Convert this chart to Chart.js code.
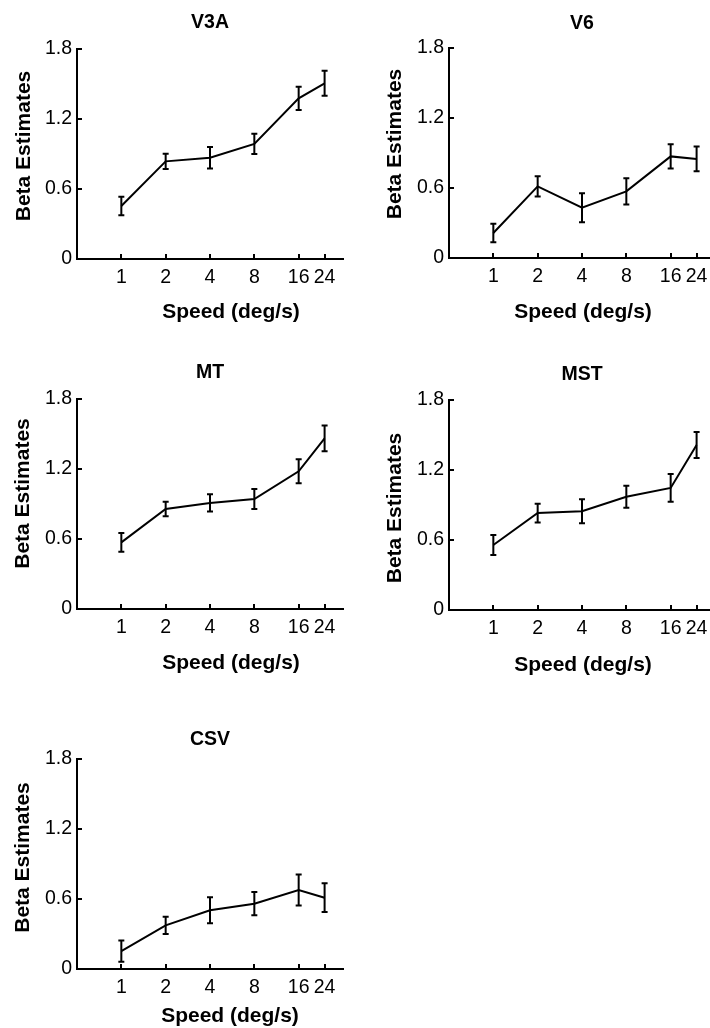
<!DOCTYPE html>
<html>
<head>
<meta charset="utf-8">
<script src="https://cdn.jsdelivr.net/npm/chart.js@4.4.0/dist/chart.umd.min.js"></script>
<style>
  html, body { margin: 0; padding: 0; background: #fff; }
  body { position: relative; width: 710px; height: 1028px; overflow: hidden; }
  canvas { position: absolute; }
</style>
</head>
<body>
<canvas id="c0" width="360" height="330" style="left:0px;top:0px"></canvas>
<canvas id="c1" width="360" height="330" style="left:372px;top:-1px"></canvas>
<canvas id="c2" width="360" height="330" style="left:0px;top:350px"></canvas>
<canvas id="c3" width="360" height="330" style="left:372px;top:351px"></canvas>
<canvas id="c4" width="360" height="330" style="left:0px;top:710px"></canvas>
<script>
// data
const speeds = [1, 2, 4, 8, 16, 24];
const yTicks = [0, 0.6, 1.2, 1.8];
const regions = ['V3A', 'V6', 'MT', 'MST', 'CSV'];

const v3a    = [0.454, 0.837, 0.868, 0.986, 1.377, 1.506];
const v3aErr = [0.080, 0.065, 0.093, 0.087, 0.100, 0.107];
const v6     = [0.214, 0.614, 0.431, 0.571, 0.871, 0.849];
const v6Err  = [0.080, 0.087, 0.124, 0.113, 0.104, 0.106];
const mt     = [0.571, 0.857, 0.909, 0.943, 1.180, 1.463];
const mtErr  = [0.080, 0.063, 0.074, 0.086, 0.103, 0.110];
const mst    = [0.557, 0.831, 0.846, 0.971, 1.046, 1.414];
const mstErr = [0.086, 0.080, 0.103, 0.094, 0.119, 0.111];
const csv    = [0.154, 0.374, 0.503, 0.560, 0.677, 0.611];
const csvErr = [0.091, 0.074, 0.111, 0.100, 0.133, 0.123];

const xTitle = 'Speed (deg/s)';
const yTitle = 'Beta Estimates';

const values = [v3a, v6, mt, mst, csv];
const errors = [v3aErr, v6Err, mtErr, mstErr, csvErr];

// per panel placement of the titles (px)
const layouts = [
  { gap: 26.5, xdx: 154, xdy: 53.5, ydx: -53, ydy: -8 },
  { gap: 24.4, xdx: 134, xdy: 54,   ydx: -54, ydy: -9 },
  { gap: 26.3, xdx: 154, xdy: 54,   ydx: -54, ydy: -10.5 },
  { gap: 25,   xdx: 134, xdy: 55,   ydx: -54, ydy: 3 },
  { gap: 19.7, xdx: 153, xdy: 47.7, ydx: -54, ydy: -6.5 }
];

const FONT = '"Liberation Sans", Arial, Helvetica, sans-serif';
const TICK_SIZE = 19.5;
const HALF_LH = TICK_SIZE * 1.2 / 2;

const errorBars = {
  id: 'errorBars',
  afterDatasetsDraw(chart, args, opts) {
    const { ctx, scales: { x, y } } = chart;
    ctx.save();
    ctx.strokeStyle = '#000';
    ctx.lineWidth = 2;
    opts.err.forEach((e, i) => {
      const px = x.getPixelForValue(speeds[i]);
      const top = y.getPixelForValue(opts.values[i] + e);
      const bot = y.getPixelForValue(opts.values[i] - e);
      ctx.beginPath();
      ctx.moveTo(px, top); ctx.lineTo(px, bot);
      ctx.moveTo(px - 3, top); ctx.lineTo(px + 3, top);
      ctx.moveTo(px - 3, bot); ctx.lineTo(px + 3, bot);
      ctx.stroke();
    });
    ctx.restore();
  }
};

// inward tick marks + axis titles
const axisExtras = {
  id: 'axisExtras',
  afterDraw(chart, args, opts) {
    const { ctx, chartArea: a, scales: { x, y } } = chart;
    ctx.save();
    ctx.strokeStyle = '#000';
    ctx.lineWidth = 2;
    ctx.beginPath();
    x.ticks.forEach(t => {
      const px = Math.round(x.getPixelForValue(t.value));
      ctx.moveTo(px, a.bottom); ctx.lineTo(px, a.bottom - 5);
    });
    y.ticks.forEach(t => {
      const py = Math.round(y.getPixelForValue(t.value));
      ctx.moveTo(a.left, py); ctx.lineTo(a.left + 5, py);
    });
    ctx.stroke();

    ctx.fillStyle = '#000';
    ctx.font = 'bold 21px ' + FONT;
    ctx.textAlign = 'center';
    ctx.textBaseline = 'middle';
    ctx.fillText(xTitle, a.left + opts.xdx, a.bottom + opts.xdy);
    ctx.translate(a.left + opts.ydx, (a.top + a.bottom) / 2 + opts.ydy);
    ctx.rotate(-Math.PI / 2);
    ctx.fillText(yTitle, 0, 0);
    ctx.restore();
  }
};

const axisGrid = { display: false, drawTicks: false };
const axisBorder = { display: true, color: '#000', width: 2 };

regions.forEach((name, k) => {
  const L = layouts[k];
  new Chart(document.getElementById('c' + k), {
    type: 'line',
    data: {
      datasets: [{
        data: speeds.map((s, i) => ({ x: s, y: values[k][i] })),
        borderColor: '#000',
        borderWidth: 2,
        pointRadius: 0,
        tension: 0,
        fill: false
      }]
    },
    options: {
      responsive: false,
      animation: false,
      events: [],
      layout: { padding: { left: 0, right: 17, top: 0, bottom: 0 } },
      plugins: {
        legend: { display: false },
        tooltip: { enabled: false },
        title: {
          display: true,
          text: name,
          fullSize: false,
          color: '#000',
          font: { family: FONT, size: TICK_SIZE, weight: 'bold', lineHeight: 1.2 },
          padding: { top: 49 - L.gap - HALF_LH, bottom: L.gap - HALF_LH }
        },
        errorBars: { values: values[k], err: errors[k] },
        axisExtras: L
      },
      scales: {
        x: {
          type: 'logarithmic',
          min: 0.5,
          max: 32,
          afterBuildTicks: s => { s.ticks = speeds.map(v => ({ value: v })); },
          afterFit: s => { s.height = 71; },
          ticks: {
            autoSkip: false, maxRotation: 0, padding: 7, color: '#000',
            font: { family: FONT, size: TICK_SIZE },
            callback: v => String(v)
          },
          grid: axisGrid,
          border: axisBorder
        },
        y: {
          min: 0,
          max: 1.8,
          afterBuildTicks: s => { s.ticks = yTicks.map(v => ({ value: v })); },
          afterFit: s => { s.width = 77; },
          ticks: {
            padding: 5, color: '#000',
            font: { family: FONT, size: TICK_SIZE },
            callback: v => String(v)
          },
          grid: axisGrid,
          border: axisBorder
        }
      }
    },
    plugins: [errorBars, axisExtras]
  });
});
</script>
</body>
</html>
